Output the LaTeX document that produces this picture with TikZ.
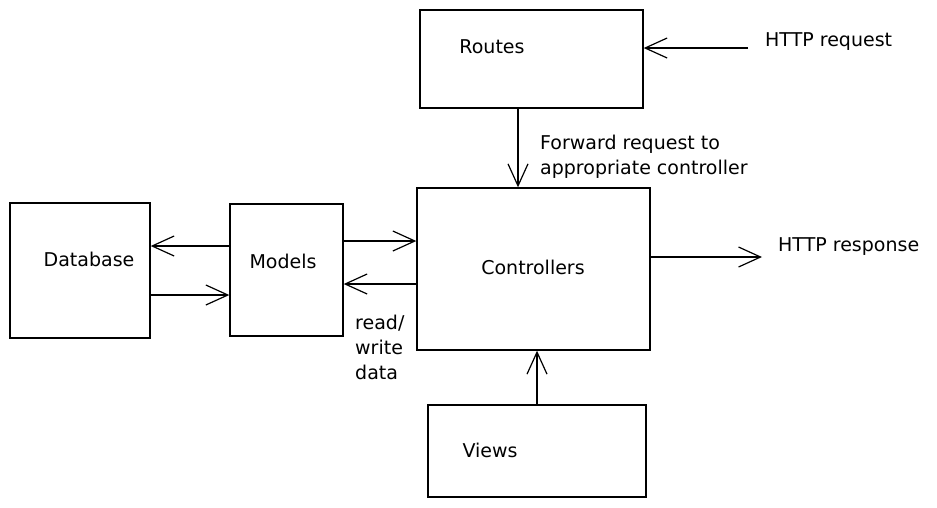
\documentclass[tikz,border=0pt]{standalone}
\usepackage{fontspec}
\setmainfont{DejaVu Sans}
\usepackage{tikz}
\usetikzlibrary{arrows.meta,calc,positioning}

\begin{document}
\begin{tikzpicture}[x=1pt,y=-1pt,
    box/.style={draw=black, line width=1.4pt, minimum width=#1},
    txt/.style={font=\fontsize{19}{25}\selectfont, inner sep=0pt},
    arr/.style={-{Straight Barb[length=22pt,width=20pt]}, line width=1.2pt}]
        \useasboundingbox (0,0) rectangle (937,507);
        % Draw the boxes
        \node[box=223pt, minimum height=98pt] (routes) at (531.5,59) {};
        \node[box=140pt, minimum height=135pt] (database) at (80,270.5) {};
        \node[box=113pt, minimum height=132pt] (models) at (286.5,270) {};
        \node[box=233pt, minimum height=162pt] (controllers) at (533.5,269) {};
        \node[box=218pt, minimum height=92pt] (views) at (537,451) {};
        % box texts
        \node[txt] (routestxt) at (492,47) {Routes};
        \node[txt] (databasetxt) at (89,259) {Database};
        \node[txt] (modelstxt) at (283,261) {Models};
        \node[txt] (controllerstxt) at (533,267) {Controllers};
        \node[txt] (viewstxt) at (490,450) {Views};
        % outside ends
        \coordinate (req) at (748,48);
        \coordinate (resp) at (762,257);
        \node[txt, anchor=west] (reqtxt) at (765,42) {HTTP request};
        \node[txt, anchor=west] (resptxt) at (778,247) {HTTP response};
        % arrows
        \draw[arr] (req) -- (req -| routes.east);
        \draw[arr] (routes.south -| 518,0) -- (controllers.north -| 518,0);
        \draw[arr] (resp -| controllers.east) -- (resp);
        \draw[arr] (views.north) -- (views.north |- controllers.south);
        \draw[arr] (models.east |- 0,241) -- (controllers.west |- 0,241);
        \draw[arr] (controllers.west |- 0,284) -- (models.east |- 0,284);
        \draw[arr] (models.west |- 0,246) -- (database.east |- 0,246);
        \draw[arr] (database.east |- 0,295) -- (models.west |- 0,295);
        % labels
        \node[txt, anchor=west, align=left] (fwd) at (540,157) {Forward request to\\appropriate controller};
        \node[txt, anchor=west, align=left] (rw) at (355,347) {read/\\write\\data};
\end{tikzpicture}
\end{document}
